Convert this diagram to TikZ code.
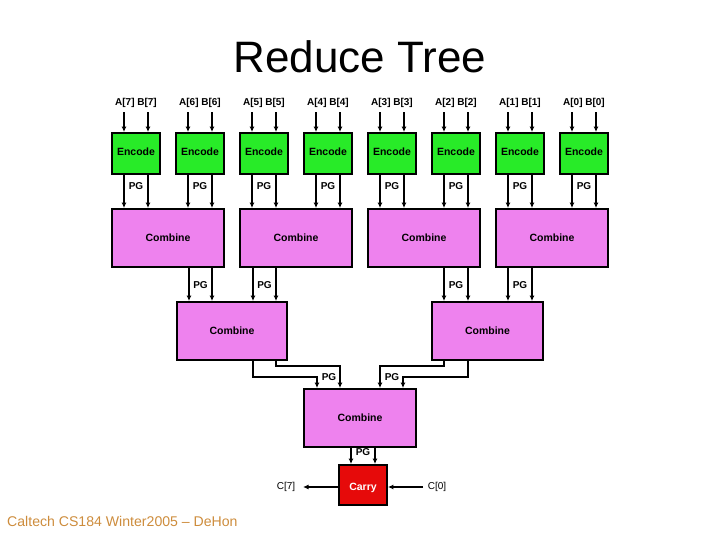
\documentclass[tikz,border=0pt]{standalone}
\usepackage{fontspec}
\setmainfont{Liberation Sans}
\usetikzlibrary{arrows.meta}
\definecolor{encgreen}{RGB}{40,235,40}
\definecolor{combviolet}{RGB}{238,130,238}
\definecolor{carryred}{RGB}{230,10,10}
\definecolor{footcol}{RGB}{205,140,60}
\tikzset{
  box/.style={draw=black,line width=1.8pt,inner sep=0pt,font=\fontsize{10.5}{12}\selectfont\bfseries},
  enc/.style={box,fill=encgreen,minimum width=48pt,minimum height=41pt},
  comb/.style={box,fill=combviolet,minimum height=58pt},
  carrybox/.style={box,fill=carryred,text=white,minimum width=48pt,minimum height=40pt},
  arr/.style={line width=1.2pt,-{Latex[length=5.5pt,width=5pt]}},
  lbl/.style={font=\fontsize{10}{11}\selectfont\bfseries,inner sep=0pt},
  side/.style={font=\fontsize{10}{11}\selectfont,inner sep=0pt},
}
\begin{document}
\begin{tikzpicture}[x=1pt,y=-1pt]
\useasboundingbox (0,0) rectangle (720,540);
\node[font=\fontsize{44}{48}\selectfont] (title) at (360,57) {Reduce Tree};
\node[anchor=west,font=\fontsize{14.1}{16}\selectfont,text=footcol,inner sep=0pt] (foot) at (7,521) {Caltech CS184 Winter2005 -- DeHon};

% level 1 combine
\foreach \j in {0,1,2,3}{
  \node[comb,minimum width=112pt] (c\j) at ({168+128*\j},238) {Combine};
}
% encode
\foreach \i/\n in {0/7,1/6,2/5,3/4,4/3,5/2,6/1,7/0}{
  \pgfmathtruncatemacro{\c}{\i/2}
  \node[enc] (e\i) at ({136+64*\i},153.5) {\raisebox{2pt}[\height][\depth]{Encode}};
  \node[lbl] (l\i) at ({136+64*\i},103) {A[\n] B[\n]};
  \draw[arr] ([xshift=-12pt,yshift=20pt]e\i.north) -- ([xshift=-12pt]e\i.north);
  \draw[arr] ([xshift=12pt,yshift=20pt]e\i.north) -- ([xshift=12pt]e\i.north);
  \draw[arr] ([xshift=-12pt]e\i.south) -- ([xshift=-12pt]e\i.south |- c\c.north);
  \draw[arr] ([xshift=12pt]e\i.south) -- ([xshift=12pt]e\i.south |- c\c.north);
  \node[lbl] (pe\i) at ([yshift=-11pt]e\i.south) {PG};
}
% level 2 combine
\node[comb,minimum width=110pt] (d0) at (232,331) {Combine};
\node[comb,minimum width=111pt] (d1) at (487.5,331) {Combine};
\foreach \j/\a/\b/\d in {0/21/44/d0,1/-43/-20/d0,2/20/44/d1,3/-44/-20/d1}{
  \draw[arr] ([xshift=\a pt]c\j.south) -- ([xshift=\a pt]c\j.south |- \d.north);
  \draw[arr] ([xshift=\b pt]c\j.south) -- ([xshift=\b pt]c\j.south |- \d.north);
  \node[lbl] (pc\j) at ([xshift={(\a+\b)/2},yshift=-17pt]c\j.south) {PG};
}
% level 3 combine
\node[comb,minimum width=112pt] (f) at (360,418) {Combine};
\draw[arr] ([xshift=21pt]d0.south) -- ++(0,16) -| ([xshift=-43pt]f.north);
\draw[arr] ([xshift=44pt]d0.south) -- ++(0,5) -| ([xshift=-20pt]f.north);
\draw[arr] ([xshift=-43.5pt]d1.south) -- ++(0,5) -| ([xshift=20pt]f.north);
\draw[arr] ([xshift=-19.5pt]d1.south) -- ++(0,16) -| ([xshift=43pt]f.north);
\node[lbl] (pd0) at (329,377.5) {PG};
\node[lbl] (pd1) at (392,377.5) {PG};
% carry
\node[carrybox] (k) at (363,485) {\raisebox{-3pt}[\height][\depth]{Carry}};
\draw[arr] ([xshift=-12pt]k.north |- f.south) -- ([xshift=-12pt]k.north);
\draw[arr] ([xshift=12pt]k.north |- f.south) -- ([xshift=12pt]k.north);
\node[lbl] (pf) at (363,452.5) {PG};
\node[side] (c7) at (286,487) {C[7]};
\node[side] (c0) at (437,487) {C[0]};
\coordinate (c7e) at (303,487);
\coordinate (c0s) at (423,487);
\draw[arr] (k.west |- c7e) -- (c7e);
\draw[arr] (c0s) -- (k.east |- c0s);
\end{tikzpicture}
\end{document}
